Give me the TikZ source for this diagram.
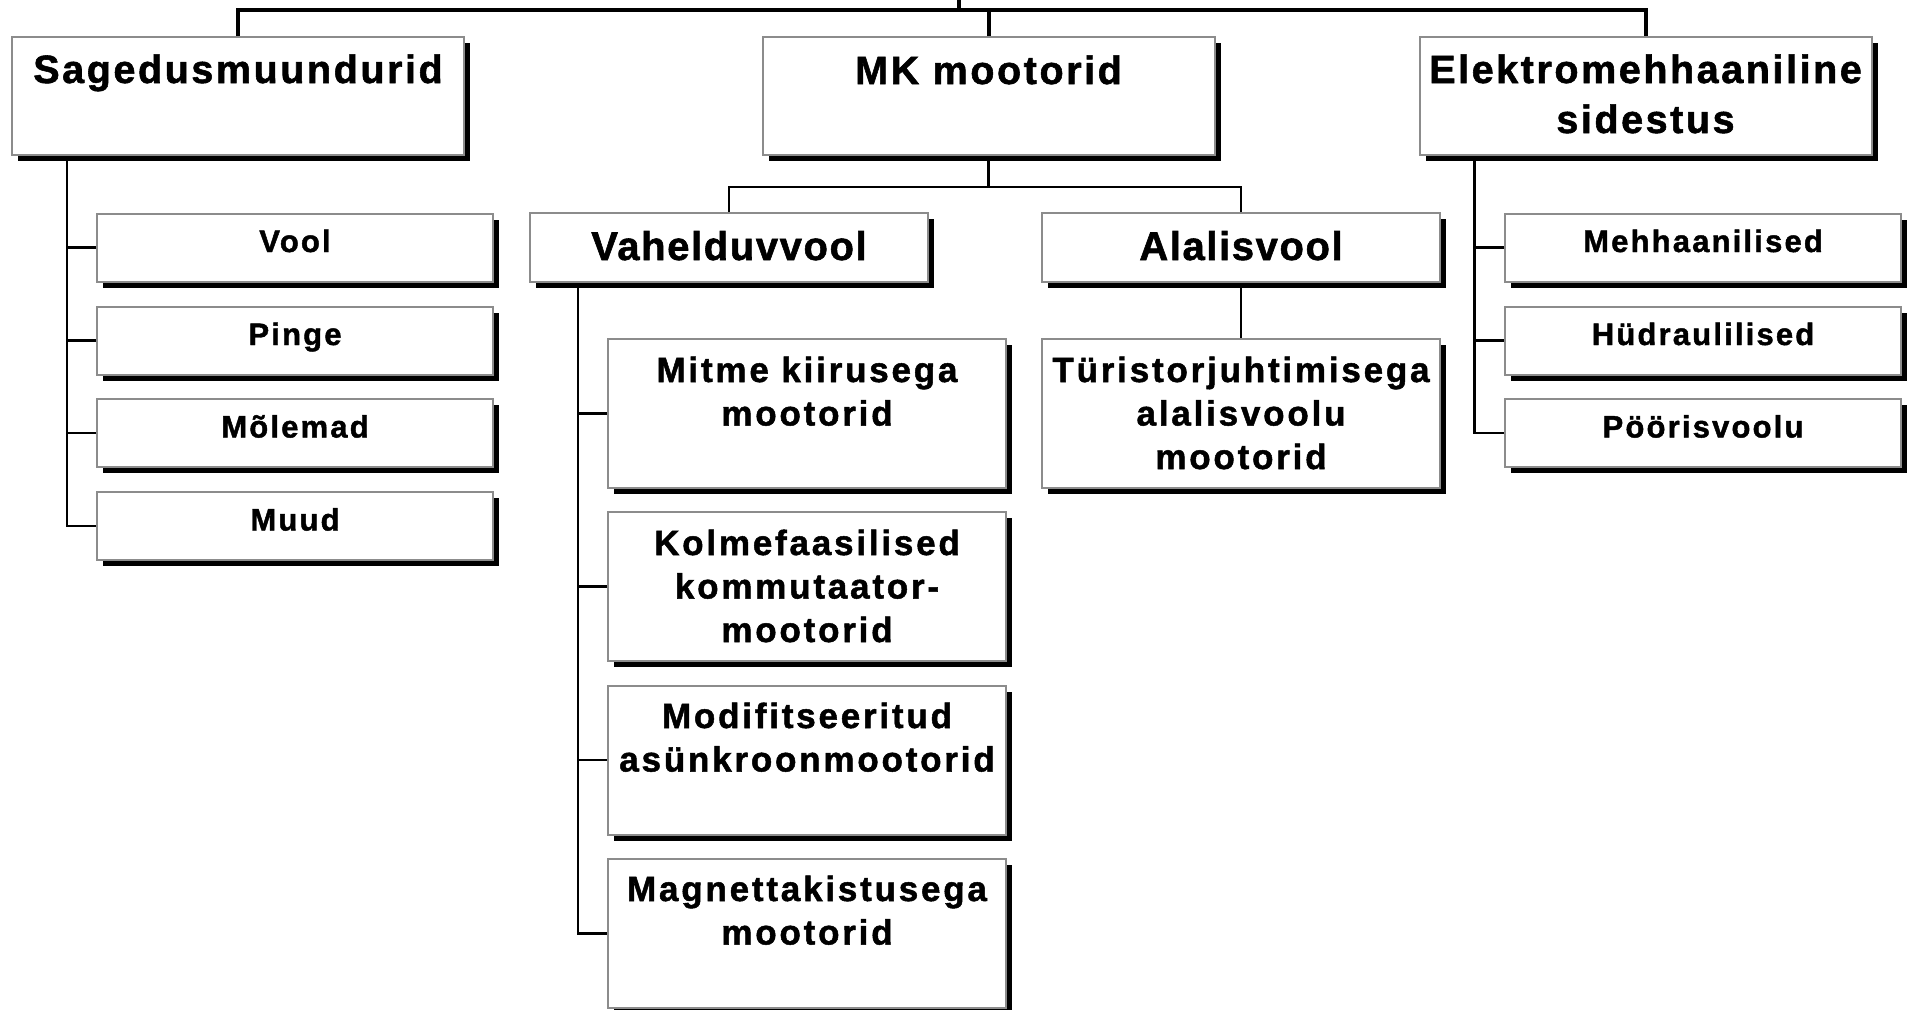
\documentclass[tikz,border=0pt]{standalone}
\usepackage{fontspec}
\setmainfont{Liberation Sans}
\usetikzlibrary{shadows}

% letter-spaced heavy faces for the four box levels
\newfontfamily\fonttop{Liberation Sans Bold}[LetterSpace=6.5, FakeBold=1.4]
\newfontfamily\fontsub{Liberation Sans Bold}[LetterSpace=4, FakeBold=1.4]
\newfontfamily\fontmid{Liberation Sans Bold}[LetterSpace=8, FakeBold=1.4]
\newfontfamily\fontleaf{Liberation Sans Bold}[LetterSpace=7, FakeBold=1.4]

% centred stack of lines whose baseline is the first line
\newcommand\linestack[1]{\begin{tabular}[t]{@{}c@{}}#1\end{tabular}}

\definecolor{boxgray}{HTML}{8C8C8C}

\begin{document}
\begin{tikzpicture}[x=1pt,y=-1pt,
  boxbase/.style={draw=boxgray, line width=2pt, fill=white, inner sep=0pt,
    drop shadow={shadow xshift=6pt, shadow yshift=-6pt, fill=black, opacity=1}},
  topbox/.style={boxbase, minimum width=452pt, minimum height=118pt},
  subbox/.style={boxbase, minimum width=398pt, minimum height=69pt},
  leafbox/.style={boxbase, minimum width=396pt, minimum height=68pt},
  midbox/.style={boxbase, minimum width=398pt, minimum height=149pt},
  txt/.style={anchor=base, inner sep=0pt, text=black},
  toptxt/.style={txt, font=\fonttop\fontsize{39.5}{50}\selectfont},
  subtxt/.style={txt, font=\fontsub\fontsize{40}{50}\selectfont},
  midtxt/.style={txt, font=\fontmid\fontsize{35}{43.5}\selectfont},
  leaftxt/.style={txt, font=\fontleaf\fontsize{31}{38}\selectfont},
  trunk/.style={draw=black, line width=4pt},
  link/.style={draw=black, line width=2.5pt}]

\useasboundingbox (0,0) rectangle (1910,1009);

% ---- boxes ----
\node[topbox] (sag)  at (238,96) {};
\node[topbox] (mk)   at (988.5,96) {};
\node[topbox] (elek) at (1645.5,96) {};

\node[subbox] (vahel) at (729,247.5) {};
\node[subbox] (alal)  at (1241,247.5) {};

\node[leafbox] (vool)  at (295,247.5) {};
\node[leafbox] (pinge) at (295,340.5) {};
\node[leafbox] (mol)   at (295,433) {};
\node[leafbox] (muud)  at (295,526) {};

\node[leafbox] (meh)  at (1703,247.5) {};
\node[leafbox] (hud)  at (1703,340.5) {};
\node[leafbox] (poor) at (1703,433) {};

\node[midbox] (mitme)  at (807,413.5) {};
\node[midbox] (kolme)  at (807,586.5) {};
\node[midbox] (modif)  at (807,760) {};
\node[midbox] (magnet) at (807,933.5) {};
\node[midbox] (tur)    at (1241,413.5) {};

% ---- texts ----
\node[toptxt] (sag-t)  at (238,83) {\linestack{Sagedusmuundurid}};
\node[toptxt] (mk-t)   at (988.5,84) {\linestack{MK mootorid}};
\node[toptxt] (elek-t) at (1645.5,83) {\linestack{Elektromehhaaniline\\sidestus}};

\node[subtxt] (vahel-t) at (729,260) {\linestack{Vahelduvvool}};
\node[subtxt] (alal-t)  at (1241,260) {\linestack{Alalisvool}};

\node[leaftxt] (vool-t)  at (295,252) {\linestack{Vool}};
\node[leaftxt] (pinge-t) at (295,345) {\linestack{Pinge}};
\node[leaftxt] (mol-t)   at (295,437.5) {\linestack{Mõlemad}};
\node[leaftxt] (muud-t)  at (295,530.5) {\linestack{Muud}};

\node[leaftxt] (meh-t)  at (1703,252) {\linestack{Mehhaanilised}};
\node[leaftxt] (hud-t)  at (1703,345) {\linestack{Hüdraulilised}};
\node[leaftxt] (poor-t) at (1703,437.5) {\linestack{Pöörisvoolu}};

\node[midtxt] (mitme-t)  at (807,382) {\linestack{Mitme kiirusega\\mootorid}};
\node[midtxt] (kolme-t)  at (807,555) {\linestack{Kolmefaasilised\\kommutaator-\\mootorid}};
\node[midtxt] (modif-t)  at (807,728) {\linestack{Modifitseeritud\\asünkroonmootorid}};
\node[midtxt] (magnet-t) at (807,901) {\linestack{Magnettakistusega\\mootorid}};
\node[midtxt] (tur-t)    at (1241,382) {\linestack{Türistorjuhtimisega\\alalisvoolu\\mootorid}};

% ---- connectors ----
\coordinate (bar)  at (959,10);
\coordinate (root) at (959,0);
\draw[trunk] (sag.north) |- (bar) -| (elek.north);
\draw[trunk] (mk.north) -- (mk.north |- bar);
\draw[trunk] (root) -- (bar);

\coordinate (mkj) at (988.5,187);
\draw[link] (mk.south) -- (mkj);
\draw[link] (vahel.north) |- (mkj) -| (alal.north);
\draw[link] (alal.south) -- (tur.north);

\coordinate (sagsp) at ([xshift=56pt]sag.south west);
\draw[link] (sagsp) |- (muud.west);
\foreach \n in {vool,pinge,mol} \draw[link] (\n.west) -- (\n.west -| sagsp);

\coordinate (vahelsp) at ([xshift=49pt]vahel.south west);
\draw[link] (vahelsp) |- (magnet.west);
\foreach \n in {mitme,kolme,modif} \draw[link] (\n.west) -- (\n.west -| vahelsp);

\coordinate (eleksp) at ([xshift=56pt]elek.south west);
\draw[link] (eleksp) |- (poor.west);
\foreach \n in {meh,hud} \draw[link] (\n.west) -- (\n.west -| eleksp);

\end{tikzpicture}
\end{document}
